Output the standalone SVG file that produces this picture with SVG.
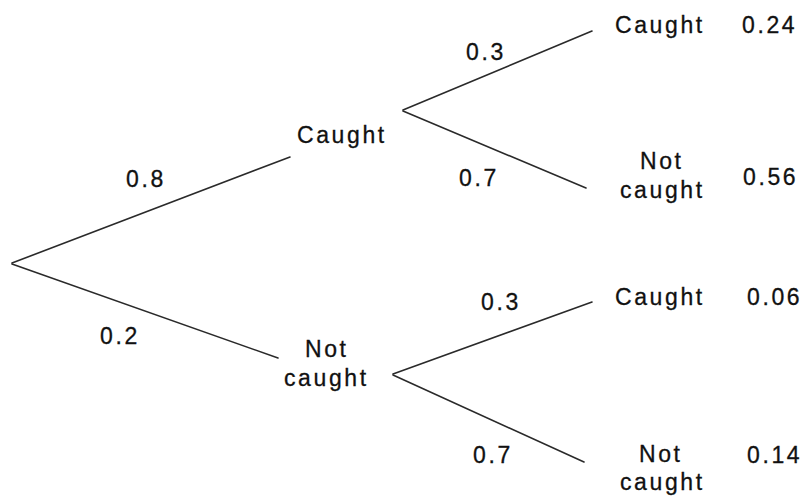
<svg xmlns="http://www.w3.org/2000/svg" width="804" height="496" viewBox="0 0 804 496">
<style>
text{font-family:"Liberation Sans",Arial,sans-serif;font-size:23px;letter-spacing:2.6px;fill:#111111;stroke:#111111;stroke-width:0.3}
.edge{stroke:#2a2a2a;stroke-width:1.6;fill:none;stroke-linecap:round}
</style>
<rect width="804" height="496" fill="#ffffff"/>
<g id="connectors">
<line class="edge" x1="12" y1="263" x2="290" y2="157"/>
<line class="edge" x1="12" y1="264" x2="278" y2="358"/>
<line class="edge" x1="403" y1="110" x2="592" y2="31"/>
<line class="edge" x1="403" y1="111" x2="586" y2="188"/>
<line class="edge" x1="393" y1="374" x2="592" y2="302"/>
<line class="edge" x1="393" y1="375" x2="584" y2="462"/>
</g>
<g id="edge-labels">
<text x="126" y="187">0.8</text>
<text x="100" y="344">0.2</text>
<text x="466" y="60">0.3</text>
<text x="459" y="186">0.7</text>
<text x="481" y="310">0.3</text>
<text x="473" y="463">0.7</text>
</g>
<g id="node-caught">
<text x="297" y="143">Caught</text>
</g>
<g id="node-notcaught">
<text x="305" y="357">Not</text>
<text x="284" y="386">caught</text>
</g>
<g id="node-cc">
<text x="615" y="33">Caught</text>
<text x="742" y="33">0.24</text>
</g>
<g id="node-cn">
<text x="640" y="169">Not</text>
<text x="620" y="198">caught</text>
<text x="743" y="185">0.56</text>
</g>
<g id="node-nc">
<text x="615" y="305">Caught</text>
<text x="747" y="305">0.06</text>
</g>
<g id="node-nn">
<text x="639" y="462">Not</text>
<text x="620" y="490">caught</text>
<text x="747" y="463">0.14</text>
</g>
</svg>
